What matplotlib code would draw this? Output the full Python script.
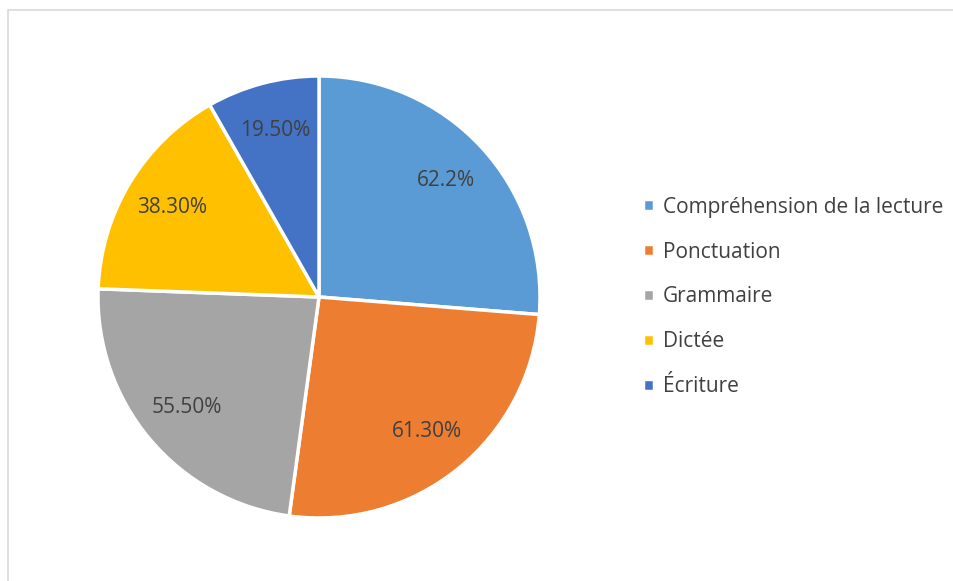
import matplotlib.pyplot as plt
from matplotlib.patches import Rectangle

# données du graphique
categories = ['Compréhension de la lecture', 'Ponctuation', 'Grammaire', 'Dictée', 'Écriture']
valeurs = [62.2, 61.3, 55.5, 38.3, 19.5]
etiquettes = ['62.2%', '61.30%', '55.50%', '38.30%', '19.50%']
couleurs = ['#5B9BD5', '#ED7D31', '#A5A5A5', '#FFC000', '#4472C4']

plt.rcParams['font.family'] = ['Open Sans', 'DejaVu Sans']

W, H = 954, 581
fig = plt.figure(figsize=(W / 100, H / 100), dpi=100)

# cadre gris clair du graphique
fig.patches.append(Rectangle((8 / W, -0.05), 1.1, 1 - 10 / H + 0.05,
                             transform=fig.transFigure, fill=False,
                             edgecolor='#D9D9D9', linewidth=1.2))

# axe du camembert : centre (319, 297), rayon 221 px
cx, cy, r = 319, H - 297, 221
ax = fig.add_axes([(cx - r) / W, (cy - r) / H, 2 * r / W, 2 * r / H])

wedges, texts, autotexts = ax.pie(valeurs, colors=couleurs, startangle=90,
                                  counterclock=False, radius=1,
                                  autopct='%1.1f%%', pctdistance=0.78,
                                  wedgeprops=dict(edgecolor='white', linewidth=2.5))
for t, lab in zip(autotexts, etiquettes):
    t.set_text(lab)
    t.set_color('#404040')
    t.set_fontsize(15)

ax.set_xlim(-1.0, 1.0)
ax.set_ylim(-1.0, 1.0)
ax.set_aspect('equal')
ax.axis('off')

# légende à droite
leg = fig.legend(wedges, categories, loc='center left',
                 bbox_to_anchor=(624 / W, 1 - 297 / H), frameon=False,
                 fontsize=15, labelcolor='#404040', handlelength=0.55,
                 handleheight=0.55, handletextpad=0.4, labelspacing=1.15)

plt.savefig('out.png', dpi=100)
